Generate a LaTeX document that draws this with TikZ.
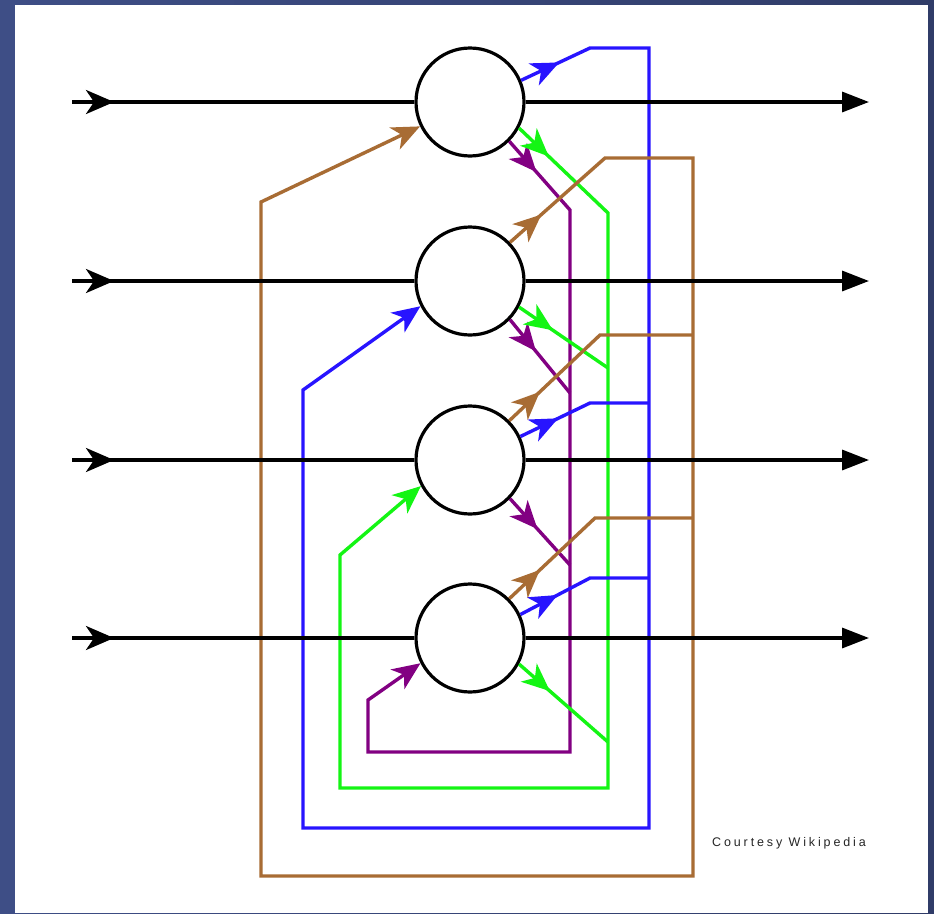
\documentclass[tikz,border=0pt]{standalone}
\usepackage{fontspec}
\newfontfamily\credfont[LetterSpace=23]{Liberation Sans}
\usetikzlibrary{arrows.meta,decorations.markings}
\definecolor{bgleft}{RGB}{62,78,134}
\definecolor{bgright}{RGB}{48,60,104}
\definecolor{nblue}{RGB}{40,20,255}
\definecolor{ngreen}{RGB}{20,245,20}
\definecolor{npurple}{RGB}{130,0,130}
\definecolor{nbrown}{RGB}{168,108,52}
\tikzset{
  barb/.tip={Stealth[length=28pt,width=24pt,inset=8pt]},
  neuron/.style={circle, draw=black, fill=white, line width=3.2pt, minimum size=108pt, inner sep=0pt},
  wire/.style={line width=3.4pt, line join=miter},
  midarrow/.style={postaction={decorate, decoration={markings, mark=at position #1 with {\arrow{barb}}}}},
  endarrow/.style={-{barb}},
  outarrow/.style={-{Triangle[length=27pt,width=20pt]}},
}
\begin{document}
\begin{tikzpicture}[x=1pt,y=-1pt]
\useasboundingbox (0,0) rectangle (934,913);
\shade[left color=bgleft, right color=bgright] (0,0) rectangle (934,913);
\fill[white] (15,5) rectangle (928,913);

% neurons
\node[neuron] (n1) at (470,102) {};
\node[neuron] (n2) at (470,281) {};
\node[neuron] (n3) at (470,460) {};
\node[neuron] (n4) at (470,638) {};

% coordinates
\coordinate (in1) at (72,102);  \coordinate (out1) at (869,102);
\coordinate (in2) at (72,281);  \coordinate (out2) at (869,281);
\coordinate (in3) at (72,460);  \coordinate (out3) at (869,460);
\coordinate (in4) at (72,638);  \coordinate (out4) at (869,638);

% blue bus (feeds n2)
\coordinate (bl1a) at (590,48);  \coordinate (bl1b) at (649,48);
\coordinate (blbr) at (649,828); \coordinate (blbl) at (303,828);
\coordinate (bltl) at (303,390);
\coordinate (bl3a) at (590,403); \coordinate (bl3b) at (649,403);
\coordinate (bl4a) at (590,578); \coordinate (bl4b) at (649,578);
% green bus (feeds n3)
\coordinate (gr1a) at (608,213);
\coordinate (grbr) at (608,788); \coordinate (grbl) at (340,788);
\coordinate (grtl) at (340,555);
\coordinate (gr2a) at (608,368);
\coordinate (gr4a) at (608,742);
% purple bus (feeds n4)
\coordinate (pu1a) at (570,210);
\coordinate (pubr) at (570,752); \coordinate (publ) at (368,752);
\coordinate (putl) at (368,700);
\coordinate (pu2a) at (570,393);
\coordinate (pu3a) at (570,565);
% brown bus (feeds n1)
\coordinate (br2a) at (605,158); \coordinate (br2b) at (693,158);
\coordinate (brbr) at (693,876); \coordinate (brbl) at (261,876);
\coordinate (brtl) at (261,202);
\coordinate (br3a) at (600,335); \coordinate (br3b) at (693,335);
\coordinate (br4a) at (595,518); \coordinate (br4b) at (693,518);

% purple
\draw[wire, npurple, midarrow=41pt, endarrow] (n1.-45) -- (pu1a) -- (pubr) -- (publ) -- (putl) -- (n4.-153);
\draw[wire, npurple, midarrow=41pt] (n2.-44) -- (pu2a);
\draw[wire, npurple, midarrow=41pt] (n3.-44) -- (pu3a);
% green
\draw[wire, ngreen, midarrow=41pt, endarrow] (n1.-28) -- (gr1a) -- (grbr) -- (grbl) -- (grtl) -- (n3.-152);
\draw[wire, ngreen, midarrow=41pt] (n2.-28) -- (gr2a);
\draw[wire, ngreen, midarrow=41pt] (n4.-28) -- (gr4a);
% blue
\draw[wire, nblue, midarrow=42pt, endarrow] (n1.23) -- (bl1a) -- (bl1b) -- (blbr) -- (blbl) -- (bltl) -- (n2.-153);
\draw[wire, nblue, midarrow=42pt] (n3.25) -- (bl3a) -- (bl3b);
\draw[wire, nblue, midarrow=42pt] (n4.25) -- (bl4a) -- (bl4b);
% brown
\draw[wire, nbrown, midarrow=42pt, endarrow] (n2.44) -- (br2a) -- (br2b) -- (brbr) -- (brbl) -- (brtl) -- (n1.-154);
\draw[wire, nbrown, midarrow=42pt] (n3.45) -- (br3a) -- (br3b);
\draw[wire, nbrown, midarrow=42pt] (n4.45) -- (br4a) -- (br4b);

% black input / output lines
\foreach \i in {1,2,3,4}{
  \draw[wire, black, midarrow=42pt] (in\i) -- (n\i);
  \draw[wire, black, outarrow] (n\i) -- (out\i);
}

\node[font=\credfont\fontsize{12.5}{14}\selectfont, text=black!85] (credit) at (789,843) {Courtesy Wikipedia};
\end{tikzpicture}
\end{document}
